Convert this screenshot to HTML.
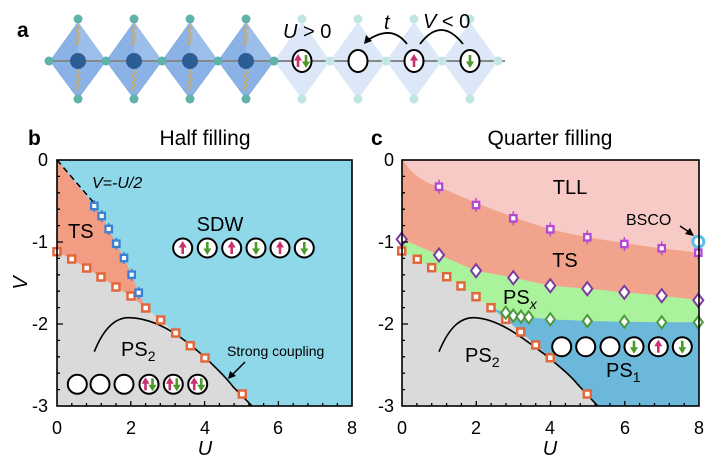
<!DOCTYPE html>
<html><head><meta charset="utf-8"><style>
html,body{margin:0;padding:0;background:#fff;}
svg{display:block;font-family:"Liberation Sans",sans-serif;}
</style></head><body>
<svg width="720" height="466" viewBox="0 0 720 466" xmlns="http://www.w3.org/2000/svg">
<defs>
<g id="up"><line x1="0" y1="6" x2="0" y2="-1" stroke="#c8326e" stroke-width="2.6"/><path d="M-4,-0.5 L4,-0.5 L0,-7z" fill="#c8326e"/></g>
<g id="dn"><line x1="0" y1="-6" x2="0" y2="1" stroke="#4c9a2a" stroke-width="2.6"/><path d="M-4,0.5 L4,0.5 L0,7z" fill="#4c9a2a"/></g>
<circle id="c" r="9.5" fill="#fff" stroke="#000" stroke-width="2"/>
<rect id="os" x="-3.5" y="-3.5" width="7" height="7" fill="#fff" stroke="#e0683a" stroke-width="2.5"/>
<g id="bs"><line x1="0" y1="-6" x2="0" y2="6" stroke="#3a7fd0" stroke-width="1.5"/><rect x="-3.2" y="-3.2" width="6.4" height="6.4" fill="#fff" stroke="#3a7fd0" stroke-width="2.3"/></g>
<g id="ps"><line x1="0" y1="-7" x2="0" y2="7" stroke="#b548d0" stroke-width="1.5"/><rect x="-3.2" y="-3.2" width="6.4" height="6.4" fill="#fff" stroke="#b548d0" stroke-width="2.3"/></g>
<path id="pd" d="M0,-6.5 L5,0 L0,6.5 L-5,0z" fill="#fff" stroke="#7a3c9e" stroke-width="2"/>
<path id="gd" d="M0,-6 L4.5,0 L0,6 L-4.5,0z" fill="#fff" stroke="#4a9a3a" stroke-width="2"/>
</defs>

<!-- Panel a -->
<text x="17" y="37" font-size="21" font-weight="bold">a</text>
<g>
<g fill="#dce8f7"><path d="M302,22 L330,61 L302,99 L274,61z"/><path d="M358,22 L386,61 L358,99 L330,61z"/><path d="M414,22 L442,61 L414,99 L386,61z"/><path d="M470,22 L498,61 L470,99 L442,61z"/></g>
<g fill="#8ab2e6" stroke="#7aa3da" stroke-width="0.5"><path d="M78,22 L106,61 L78,99 L50,61z"/><path d="M134,22 L162,61 L134,99 L106,61z"/><path d="M190,22 L218,61 L190,99 L162,61z"/><path d="M246,22 L274,61 L246,99 L218,61z"/></g>
<g fill="#a8c6ee" opacity="0.6"><path d="M78,22 L106,61 L78,61z"/><path d="M134,22 L162,61 L134,61z"/><path d="M190,22 L218,61 L190,61z"/><path d="M246,22 L274,61 L246,61z"/></g>
<line x1="49" y1="61" x2="505" y2="61" stroke="#888" stroke-width="2"/>
<g stroke="#d8a848" stroke-width="1.2" fill="none">
<path d="M78,25 l2,3 l-4,3 l4,3 l-4,3 l4,3 l-4,3 l2,3"/><path d="M78,70 l2,3 l-4,3 l4,3 l-4,3 l4,3 l-4,3 l2,3"/>
<path d="M134,25 l2,3 l-4,3 l4,3 l-4,3 l4,3 l-4,3 l2,3"/><path d="M134,70 l2,3 l-4,3 l4,3 l-4,3 l4,3 l-4,3 l2,3"/>
<path d="M190,25 l2,3 l-4,3 l4,3 l-4,3 l4,3 l-4,3 l2,3"/><path d="M190,70 l2,3 l-4,3 l4,3 l-4,3 l4,3 l-4,3 l2,3"/>
<path d="M246,25 l2,3 l-4,3 l4,3 l-4,3 l4,3 l-4,3 l2,3"/><path d="M246,70 l2,3 l-4,3 l4,3 l-4,3 l4,3 l-4,3 l2,3"/>
</g>
<g fill="#2c5d93"><circle cx="78" cy="61" r="8"/><circle cx="134" cy="61" r="8"/><circle cx="190" cy="61" r="8"/><circle cx="246" cy="61" r="8"/></g>
<g fill="#5fb3a8"><circle cx="49" cy="61" r="4.5"/><circle cx="106" cy="61" r="4.5"/><circle cx="162" cy="61" r="4.5"/><circle cx="218" cy="61" r="4.5"/><circle cx="274" cy="61" r="4.5"/>
<circle cx="78" cy="19" r="4.5"/><circle cx="134" cy="19" r="4.5"/><circle cx="190" cy="19" r="4.5"/><circle cx="246" cy="19" r="4.5"/>
<circle cx="78" cy="99" r="4.5"/><circle cx="134" cy="99" r="4.5"/><circle cx="190" cy="99" r="4.5"/><circle cx="246" cy="99" r="4.5"/></g>
<g fill="#bfe6e0"><circle cx="330" cy="61" r="4.5"/><circle cx="386" cy="61" r="4.5"/><circle cx="442" cy="61" r="4.5"/><circle cx="498" cy="61" r="4.5"/>
<circle cx="302" cy="19" r="4.5"/><circle cx="358" cy="19" r="4.5"/><circle cx="414" cy="19" r="4.5"/><circle cx="470" cy="19" r="4.5"/>
<circle cx="302" cy="99" r="4.5"/><circle cx="358" cy="99" r="4.5"/><circle cx="414" cy="99" r="4.5"/><circle cx="470" cy="99" r="4.5"/></g>
<g fill="#fff" stroke="#000" stroke-width="2"><ellipse cx="302" cy="61" rx="9.5" ry="11"/><ellipse cx="358" cy="61" rx="9.5" ry="11"/><ellipse cx="414" cy="61" rx="9.5" ry="11"/><ellipse cx="470" cy="61" rx="9.5" ry="11"/></g>
<use href="#up" x="298" y="61"/><use href="#dn" x="306" y="61"/><use href="#up" x="414" y="61"/><use href="#dn" x="470" y="61"/>
<path d="M407,44 Q392,24 368,40" fill="none" stroke="#000" stroke-width="1.8"/><path d="M364,44 L366,35 L372,41z" fill="#000"/>
<path d="M420,44 Q441,16 463,44" fill="none" stroke="#000" stroke-width="1.8"/>
<text x="283" y="38" font-size="20"><tspan font-style="italic">U</tspan> &gt; 0</text>
<text x="384" y="29" font-size="20" font-style="italic">t</text>
<text x="423" y="28" font-size="20"><tspan font-style="italic">V</tspan> &lt; 0</text>
</g>

<!-- Panel b -->
<text x="28" y="145" font-size="21" font-weight="bold">b</text>
<text x="205" y="145" font-size="21" text-anchor="middle">Half filling</text>
<rect x="57" y="160" width="295" height="246" fill="#8fd8ea"/>
<path d="M57,251.7 L71.7,259 L86.7,268 L101,277 L116,287 L131,296 L145.7,308 L160.7,320 L175.7,333 L190.3,345.7 L205,358 L242.3,394 L252,406 L57,406z" fill="#dadada"/>
<path d="M57,160 L94.3,206 L101.7,216 L108.7,229 L116.3,243.7 L124,258 L131.7,274.7 L138.7,292.7 L145.7,308 L131,296 L116,287 L101,277 L86.7,268 L71.7,259 L57,251.7z" fill="#f29c84"/>
<line x1="57" y1="160" x2="94" y2="203" stroke="#000" stroke-width="1.5" stroke-dasharray="6,4"/>
<path d="M94.3,351.7 C105,325 118,317 130,317.7 C160,319 185,340 200,353 C215,366 228,380 233,386.7 L252,406" fill="none" stroke="#000" stroke-width="1.6"/>
<g>
<use href="#os" x="57" y="251.7"/><use href="#os" x="71.7" y="259"/><use href="#os" x="86.7" y="268"/><use href="#os" x="101" y="277"/><use href="#os" x="116" y="287"/><use href="#os" x="131" y="296"/><use href="#os" x="145.7" y="308"/><use href="#os" x="160.7" y="320"/><use href="#os" x="175.7" y="333"/><use href="#os" x="190.3" y="345.7"/><use href="#os" x="205" y="358"/><use href="#os" x="242.3" y="394"/>
<use href="#bs" x="94.3" y="206"/><use href="#bs" x="101.7" y="216"/><use href="#bs" x="108.7" y="229"/><use href="#bs" x="116.3" y="243.7"/><use href="#bs" x="124" y="258"/><use href="#bs" x="131.7" y="274.7"/><use href="#bs" x="138.7" y="292.7"/>
</g>
<text x="92" y="188" font-size="16" font-style="italic">V=-U/2</text>
<text x="68" y="238" font-size="20">TS</text>
<text x="220" y="231" font-size="20" text-anchor="middle">SDW</text>
<text x="121" y="356" font-size="20">PS<tspan font-size="14" dy="5">2</tspan></text>
<text x="227" y="356" font-size="14">Strong coupling</text>
<path d="M245,362 L232,375" stroke="#000" stroke-width="1.5"/><path d="M228,379 L230,371 L236,376z" fill="#000"/>
<g>
<use href="#c" x="182.7" y="248"/><use href="#c" x="207.3" y="248"/><use href="#c" x="231.7" y="248"/><use href="#c" x="256" y="248"/><use href="#c" x="280" y="248"/><use href="#c" x="304.3" y="248"/>
<use href="#up" x="182.7" y="248"/><use href="#dn" x="207.3" y="248"/><use href="#up" x="231.7" y="248"/><use href="#dn" x="256" y="248"/><use href="#up" x="280" y="248"/><use href="#dn" x="304.3" y="248"/>
<use href="#c" x="77.3" y="384.3"/><use href="#c" x="100" y="384.3"/><use href="#c" x="124" y="384.3"/><use href="#c" x="149" y="384.3"/><use href="#c" x="173.3" y="384.3"/><use href="#c" x="197.7" y="384.3"/>
<use href="#up" x="145.5" y="384.3"/><use href="#dn" x="152.5" y="384.3"/><use href="#up" x="169.8" y="384.3"/><use href="#dn" x="176.8" y="384.3"/><use href="#up" x="194.2" y="384.3"/><use href="#dn" x="201.2" y="384.3"/>
</g>
<rect x="57" y="160" width="295" height="246" fill="none" stroke="#000" stroke-width="1.6"/>
<path d="M57,176.4h3M57,192.8h3M57,209.2h3M57,225.6h3M57,242h6M57,258.4h3M57,274.8h3M57,291.2h3M57,307.6h3M57,324h6M57,340.4h3M57,356.8h3M57,373.2h3M57,389.6h3
M71.8,406v-3M86.5,406v-3M101.3,406v-3M116,406v-3M130.8,406v-5M145.6,406v-3M160.3,406v-3M175.1,406v-3M189.8,406v-3M204.6,406v-5M219.4,406v-3M234.1,406v-3M248.9,406v-3M263.6,406v-3M278.4,406v-5M293.2,406v-3M307.9,406v-3M322.7,406v-3M337.4,406v-3" stroke="#000" stroke-width="1.3"/>
<g font-size="18" text-anchor="end"><text x="48" y="166">0</text><text x="48" y="248">-1</text><text x="48" y="330">-2</text><text x="48" y="412">-3</text></g>
<g font-size="18" text-anchor="middle"><text x="57" y="434">0</text><text x="131" y="434">2</text><text x="205" y="434">4</text><text x="278" y="434">6</text><text x="352" y="434">8</text></g>
<text x="205" y="455" font-size="20" font-style="italic" text-anchor="middle">U</text>
<text transform="translate(27,283) rotate(-90)" font-size="20" font-style="italic" text-anchor="middle">V</text>

<!-- Panel c -->
<text x="371" y="145" font-size="21" font-weight="bold">c</text>
<text x="550" y="145" font-size="21" text-anchor="middle">Quarter filling</text>
<rect x="402" y="160" width="297" height="246" fill="#f7cac6"/>
<path d="M403,160 C410,172 422,182 439,187 C470,200 500,214 550.3,229.3 C590,239 640,246 699,252.7 L699,300.3 L661.7,295.7 L624.3,292.3 L587.3,288.7 L550.3,285.7 L513.3,277.7 L476,270.7 L439,255 L402,239.3 L402,160z" fill="#f1a38b"/>
<path d="M402,239.3 L439,255 L476,270.7 L513.3,277.7 L550.3,285.7 L587.3,288.7 L624.3,292.3 L661.7,295.7 L699,300.3 L699,322.3 L661.7,322.3 L624.3,321.7 L587.3,321 L550.3,319.3 L528.7,317.3 L505.7,312.7 L491,307.7 L476,296.7 L461,286 L446.7,276.7 L431.7,267.7 L417.3,259.3 L402,251z" fill="#aaf29c"/>
<path d="M491,307.7 L505.7,312.7 L528.7,317.3 L550.3,319.3 L587.3,321 L624.3,321.7 L661.7,322.3 L699,322.3 L699,406 L598,406 L587.3,394 L550.3,357.7 L535.7,345 L520.7,332 L505.7,319.3z" fill="#6bb8da"/>
<path d="M402,251 L417.3,259.3 L431.7,267.7 L446.7,276.7 L461,286 L476,296.7 L491,307.7 L505.7,319.3 L520.7,332 L535.7,345 L550.3,357.7 L587.3,394 L598,406 L402,406z" fill="#dadada"/>
<path d="M439,351.7 C450,325 462,317 475,317.7 C500,319 525,340 543.3,353.3 C560,367 570,375 576.7,383.3 L597.7,406" fill="none" stroke="#000" stroke-width="1.6"/>
<g>
<use href="#os" x="401.7" y="251"/><use href="#os" x="417.3" y="259.3"/><use href="#os" x="431.7" y="267.7"/><use href="#os" x="446.7" y="276.7"/><use href="#os" x="461" y="286"/><use href="#os" x="476" y="296.7"/><use href="#os" x="491" y="307.7"/><use href="#os" x="505.7" y="319.3"/><use href="#os" x="520.7" y="332"/><use href="#os" x="535.7" y="345"/><use href="#os" x="550.3" y="357.7"/><use href="#os" x="587.3" y="394"/>
<use href="#ps" x="439" y="186.7"/><use href="#ps" x="476" y="205"/><use href="#ps" x="513.3" y="218.3"/><use href="#ps" x="550.3" y="229.3"/><use href="#ps" x="587.3" y="237.3"/><use href="#ps" x="624.3" y="244"/><use href="#ps" x="661.7" y="248.3"/><use href="#ps" x="698.3" y="252.7"/>
<use href="#pd" x="401.7" y="239.3"/><use href="#pd" x="439" y="255"/><use href="#pd" x="476" y="270.7"/><use href="#pd" x="513.3" y="277.7"/><use href="#pd" x="550.3" y="285.7"/><use href="#pd" x="587.3" y="288.7"/><use href="#pd" x="624.3" y="292.3"/><use href="#pd" x="661.7" y="295.7"/><use href="#pd" x="698.3" y="300.3"/>
<use href="#gd" x="505.7" y="312.7"/><use href="#gd" x="513.3" y="315.7"/><use href="#gd" x="521" y="316.7"/><use href="#gd" x="528.7" y="317.3"/><use href="#gd" x="550.3" y="319.3"/><use href="#gd" x="587.3" y="321"/><use href="#gd" x="624.3" y="321.7"/><use href="#gd" x="661.7" y="322.3"/><use href="#gd" x="698.3" y="322.3"/>
</g>
<circle cx="698.3" cy="241.7" r="5.5" fill="#fff" stroke="#5bc0e8" stroke-width="3"/>
<text x="570" y="194" font-size="20" text-anchor="middle">TLL</text>
<text x="565" y="267" font-size="20" text-anchor="middle">TS</text>
<text x="503" y="304" font-size="20">PS<tspan font-size="14" dy="5" font-style="italic">x</tspan></text>
<text x="606" y="377" font-size="20">PS<tspan font-size="14" dy="5">1</tspan></text>
<text x="465" y="362" font-size="20">PS<tspan font-size="14" dy="5">2</tspan></text>
<text x="626" y="225" font-size="16">BSCO</text>
<path d="M680,226 L689,232" stroke="#000" stroke-width="1.5"/><path d="M694,236 L685,234 L690,228z" fill="#000"/>
<g>
<use href="#c" x="561.7" y="346.7"/><use href="#c" x="585.7" y="346.7"/><use href="#c" x="610" y="346.7"/><use href="#c" x="634" y="346.7"/><use href="#c" x="658.3" y="346.7"/><use href="#c" x="682.3" y="346.7"/>
<use href="#dn" x="634" y="346.7"/><use href="#up" x="658.3" y="346.7"/><use href="#dn" x="682.3" y="346.7"/>
</g>
<rect x="402" y="160" width="297" height="246" fill="none" stroke="#000" stroke-width="1.6"/>
<path d="M402,176.4h3M402,192.8h3M402,209.2h3M402,225.6h3M402,242h6M402,258.4h3M402,274.8h3M402,291.2h3M402,307.6h3M402,324h6M402,340.4h3M402,356.8h3M402,373.2h3M402,389.6h3
M416.9,406v-3M431.7,406v-3M446.6,406v-3M461.4,406v-3M476.3,406v-5M491.1,406v-3M506,406v-3M520.8,406v-3M535.7,406v-3M550.5,406v-5M565.4,406v-3M580.2,406v-3M595.1,406v-3M609.9,406v-3M624.8,406v-5M639.6,406v-3M654.5,406v-3M669.3,406v-3M684.2,406v-3" stroke="#000" stroke-width="1.3"/>
<g font-size="18" text-anchor="end"><text x="394" y="166">0</text><text x="394" y="248">-1</text><text x="394" y="330">-2</text><text x="394" y="412">-3</text></g>
<g font-size="18" text-anchor="middle"><text x="402" y="434">0</text><text x="476" y="434">2</text><text x="550" y="434">4</text><text x="625" y="434">6</text><text x="699" y="434">8</text></g>
<text x="550" y="455" font-size="20" font-style="italic" text-anchor="middle">U</text>
</svg>
</body></html>
